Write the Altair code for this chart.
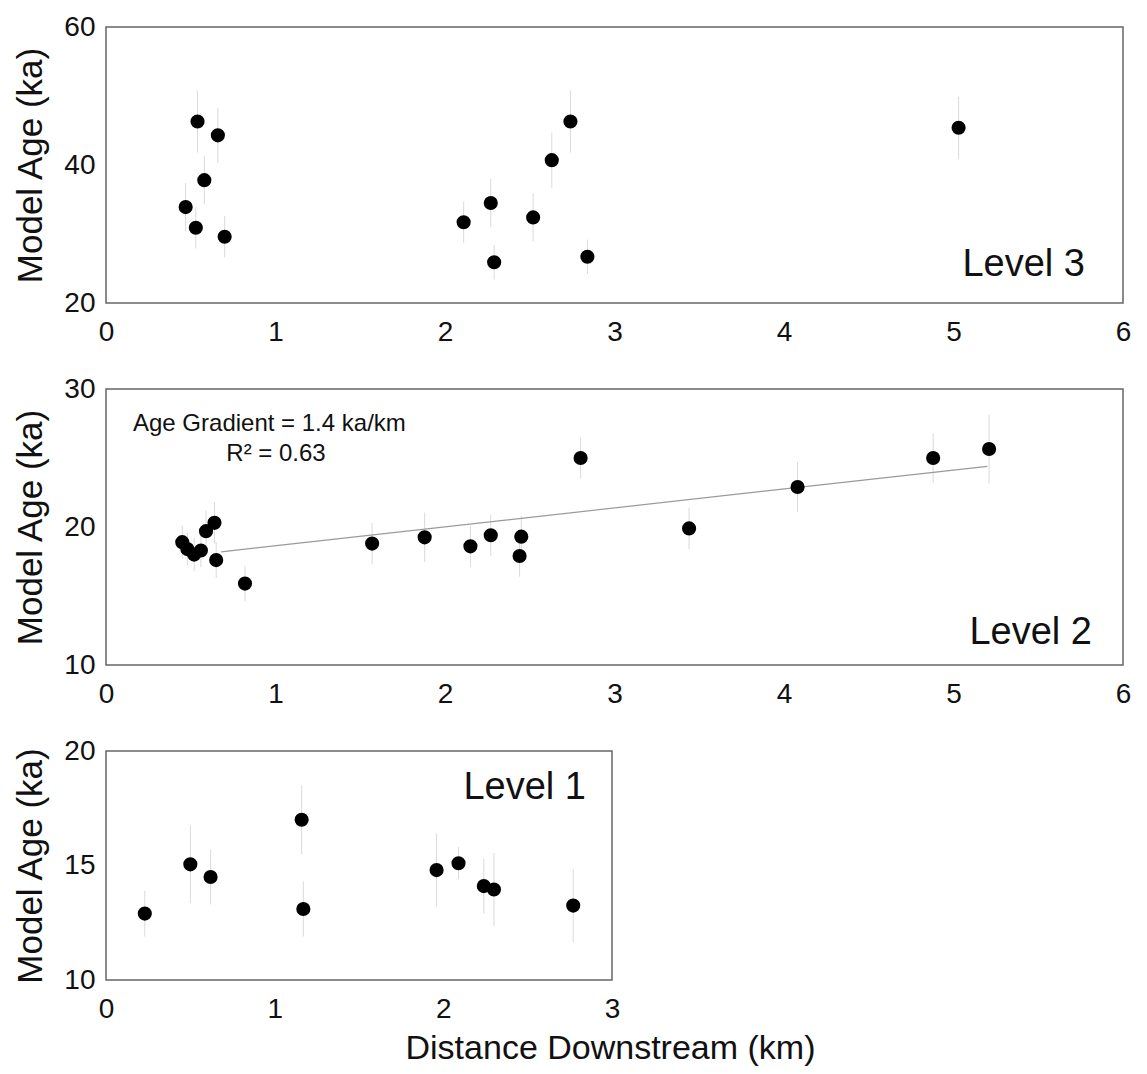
import altair as alt
import pandas as pd

FONT = "Liberation Sans"

# Level 3 data
L3_x = [0.47, 0.53, 0.54, 0.58, 0.66, 0.70, 2.11, 2.27, 2.29, 2.52, 2.63, 2.74, 2.84, 5.03]
L3_y = [33.9, 30.9, 46.3, 37.8, 44.3, 29.6, 31.7, 34.5, 25.9, 32.4, 40.7, 46.3, 26.7, 45.4]
L3_err = [3.5, 3.0, 4.5, 3.5, 4.0, 3.0, 3.0, 3.5, 2.5, 3.5, 4.0, 4.5, 2.5, 4.5]

# Level 2 data
L2_x = [0.45, 0.48, 0.52, 0.56, 0.59, 0.64, 0.65, 0.82, 1.57, 1.88, 2.15, 2.27, 2.44, 2.45, 2.80, 3.44, 4.08, 4.88, 5.21]
L2_y = [18.9, 18.4, 18.0, 18.3, 19.7, 20.3, 17.6, 15.9, 18.8, 19.25, 18.6, 19.4, 17.9, 19.3, 25.0, 19.9, 22.9, 25.0, 25.65]
L2_err = [1.2, 1.2, 1.2, 1.2, 1.5, 1.5, 1.3, 1.3, 1.5, 1.8, 1.5, 1.5, 1.5, 1.5, 1.5, 1.5, 1.8, 1.8, 2.5]

# Level 2 regression line end points
FIT_x = [0.68, 5.20]
FIT_y = [18.2, 24.4]

# Level 1 data
L1_x = [0.23, 0.50, 0.62, 1.16, 1.17, 1.96, 2.09, 2.24, 2.30, 2.77]
L1_y = [12.9, 15.05, 14.5, 17.0, 13.1, 14.8, 15.1, 14.1, 13.95, 13.25]
L1_err = [1.0, 1.7, 1.2, 1.5, 1.2, 1.6, 0.7, 1.2, 1.6, 1.6]


def panel(xs, ys, errs, xmax, ydom, yticks, width, height, texts, xtitle=None, fit=None):
    df = pd.DataFrame({
        "x": xs, "y": ys,
        "lo": [y - e for y, e in zip(ys, errs)],
        "hi": [y + e for y, e in zip(ys, errs)],
    })
    xscale = alt.Scale(domain=[0, xmax], nice=False, zero=False)
    yscale = alt.Scale(domain=ydom, nice=False, zero=False)
    xaxis_kw = dict(values=list(range(xmax + 1)), ticks=False, grid=False, domain=False,
                    labelFontSize=28, labelPadding=15, labelFont=FONT, labelColor="#111",
                    labelFlush=False, format="d")
    if xtitle:
        xaxis_kw.update(titleFontSize=34, titleFont=FONT, titleFontWeight="normal",
                        titleColor="#111", titleX=504, titleY=78,
                        titleBaseline="alphabetic", titleAlign="center")
    xaxis = alt.Axis(**xaxis_kw)
    yaxis = alt.Axis(values=yticks, ticks=False, grid=False, domain=False,
                     labelFontSize=28, labelPadding=11, labelFont=FONT, labelColor="#111",
                     labelFlush=False, format="d",
                     titleFontSize=35, titleFont=FONT, titleFontWeight="normal",
                     titleColor="#111", titlePadding=15)
    X = alt.X("x:Q", scale=xscale, axis=xaxis, title=xtitle if xtitle else None)
    Y = alt.Y("y:Q", scale=yscale, axis=yaxis, title="Model Age (ka)")

    base = alt.Chart(df)
    rules = base.mark_rule(color="#dadada", strokeWidth=1).encode(
        x=X, y=alt.Y("lo:Q", scale=yscale, axis=yaxis, title="Model Age (ka)"), y2="hi:Q")
    layers = [rules]
    if fit is not None:
        fdf = pd.DataFrame({"x": fit[0], "y": fit[1]})
        layers.append(alt.Chart(fdf).mark_line(color="#9a9a9a", strokeWidth=1.2).encode(x=X, y=Y))
    pts = base.mark_circle(size=200, color="black", opacity=1).encode(x=X, y=Y)
    layers.append(pts)
    for (t, px, py, size, align) in texts:
        tdf = pd.DataFrame({"t": [t]})
        layers.append(alt.Chart(tdf).mark_text(font=FONT, fontSize=size, color="#111",
                                               align=align, baseline="alphabetic").encode(
            text="t:N", x=alt.value(px), y=alt.value(py)))
    return alt.layer(*layers).properties(width=width, height=height)


p1 = panel(L3_x, L3_y, L3_err, 6, [20, 60], [20, 40, 60], 1017, 276,
           [("Level 3", 979, 249, 38, "right")])
p2 = panel(L2_x, L2_y, L2_err, 6, [10, 30], [10, 20, 30], 1017, 276,
           [("Level 2", 986, 255, 38, "right"),
            ("Age Gradient = 1.4 ka/km", 27, 42, 24, "left"),
            ("R² = 0.63", 170, 72, 24, "center")],
           fit=(FIT_x, FIT_y))
p3 = panel(L1_x, L1_y, L1_err, 3, [10, 20], [10, 15, 20], 506, 229,
           [("Level 1", 480, 48, 38, "right")],
           xtitle="Distance Downstream (km)")

chart = alt.vconcat(p1, p2, p3, spacing=86, bounds="flush").properties(
    padding={"left": 13, "top": 12, "right": 5, "bottom": 5}
).configure(font=FONT).configure_view(stroke="#666", strokeWidth=1.5)

chart.save("out.html", embed_options={"renderer": "svg", "actions": False})
